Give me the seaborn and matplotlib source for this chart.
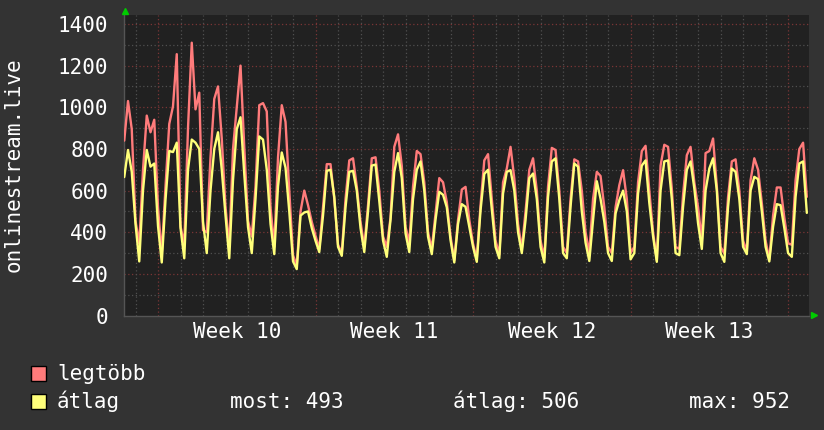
import numpy as np
import pandas as pd
import matplotlib
matplotlib.use("Agg")
import matplotlib.pyplot as plt
from matplotlib.patches import Rectangle
from matplotlib.lines import Line2D
import seaborn as sns

# ---------------- data (4-hour samples) ----------------
series_names = ["legtöbb", "átlag"]
start_time = "2024-03-02 12:00"
step = "4h"

max_vals = [
    840, 1030, 895,
    455, 345, 700, 960, 880, 940,
    520, 295, 620, 920, 1005, 1255,
    430, 340, 900, 1310, 990, 1070,
    410, 400, 760, 1040, 1100, 850,
    520, 330, 800, 1000, 1200, 810,
    455, 380, 620, 1010, 1020, 980,
    520, 330, 760, 1010, 930, 600,
    290, 240, 500, 600, 530, 450,
    383, 320, 520, 727, 727, 560,
    340, 300, 560, 745, 755, 620,
    450, 330, 530, 755, 760, 600,
    380, 330, 470, 810, 870, 720,
    426, 350, 620, 790, 775, 640,
    400, 320, 490, 660, 640, 545,
    380, 265, 460, 605, 618, 460,
    345, 274, 530, 745, 775, 560,
    360, 292, 640, 706, 810, 658,
    440, 320, 500, 700, 755, 600,
    360, 278, 620, 805, 795, 600,
    330, 300, 560, 750, 740, 600,
    400, 300, 560, 690, 670, 520,
    330, 300, 520, 626, 698, 560,
    300, 330, 640, 790, 815, 600,
    400, 266, 720, 820, 810, 610,
    330, 320, 580, 770, 810, 640,
    520, 360, 780, 790, 850, 620,
    330, 298, 570, 740, 750, 600,
    360, 310, 650, 755, 700, 540,
    360, 270, 480, 615, 615, 470,
    347, 340, 650, 800, 830, 570,
]

avg_vals = [
    665, 795, 690,
    440, 260, 600, 795, 715, 730,
    430, 255, 555, 790, 785, 830,
    420, 275, 700, 845, 830, 800,
    450, 300, 600, 800, 880, 700,
    480, 275, 650, 895, 952, 680,
    425, 300, 560, 860, 845, 700,
    440, 295, 620, 783, 710, 500,
    260, 223, 480, 495, 500, 420,
    359, 305, 480, 695, 700, 570,
    330, 287, 520, 690, 695, 600,
    420, 305, 500, 720, 725, 550,
    360, 282, 460, 690, 780, 660,
    395, 305, 560, 700, 740, 600,
    378, 295, 460, 594, 580, 520,
    362, 255, 440, 535, 522, 426,
    330, 258, 505, 680, 700, 510,
    330, 275, 586, 690, 698, 600,
    400, 300, 458, 660, 682, 560,
    330, 255, 570, 740, 755, 560,
    300, 275, 522, 730, 715, 500,
    350, 262, 458, 645, 560, 450,
    300, 262, 490, 554, 600, 500,
    270, 300, 586, 720, 745, 540,
    380, 258, 600, 740, 745, 560,
    300, 290, 522, 700, 740, 610,
    442, 320, 600, 706, 755, 600,
    300, 258, 522, 706, 690, 560,
    330, 295, 600, 666, 655, 500,
    330, 260, 426, 535, 530, 420,
    300, 282, 570, 730, 740, 493,
]

y_ticks = [0, 200, 400, 600, 800, 1000, 1200, 1400]
week_labels = ["Week 10", "Week 11", "Week 12", "Week 13"]
week_centers = ["2024-03-07 12:00", "2024-03-14 12:00", "2024-03-21 12:00", "2024-03-28 12:00"]
y_label = "onlinestream.live"
stat_texts = ["most: 493", "átlag: 506", "max: 952"]

# ---------------- style ----------------
BG = "#333333"
PLOT_BG = "#212121"
RED = "#ff7b7b"
YELLOW = "#ffff7a"
GRID_MINOR = "#505050"
GRID_MAJOR = "#7a3535"
TXT = "#ffffff"

sns.set_style("dark")
plt.rcParams["font.family"] = ["DejaVu Sans Mono", "DejaVu Sans"]
FS = 15

times = pd.date_range(start_time, periods=len(max_vals), freq=step)
df = pd.DataFrame({"time": times, series_names[0]: max_vals, series_names[1]: avg_vals})
long = df.melt(id_vars="time", var_name="series", value_name="value")

fig = plt.figure(figsize=(8.24, 4.30), dpi=100, facecolor=BG)
ax = fig.add_axes([124 / 824, 1 - 316 / 430, 685 / 824, 301 / 430])
ax.set_facecolor(PLOT_BG)

sns.lineplot(data=long, x="time", y="value", hue="series", hue_order=series_names,
             palette=[RED, YELLOW], estimator=None, legend=False, linewidth=1.7,
             ax=ax, zorder=3)

ax.set_xlim(pd.Timestamp("2024-03-02 11:44"), pd.Timestamp("2024-04-01 22:19"))
ax.set_ylim(-2, 1443)

# grid
for v in range(100, 1500, 100):
    ax.axhline(v, color=GRID_MAJOR if v % 200 == 0 else GRID_MINOR,
               lw=0.9, ls=(0, (1, 2)), zorder=1)
for d in pd.date_range("2024-03-03", "2024-04-01", freq="D"):
    ax.axvline(d, color=GRID_MAJOR if d.dayofweek == 0 else GRID_MINOR,
               lw=0.9, ls=(0, (1, 2)), zorder=1)

for s in ["top", "right"]:
    ax.spines[s].set_visible(False)
for s in ["left", "bottom"]:
    ax.spines[s].set_color("#555555")
    ax.spines[s].set_linewidth(1.0)

ax.set_yticks(y_ticks)
ax.set_yticklabels([str(v) for v in y_ticks])
ax.set_xticks([pd.Timestamp(w) for w in week_centers])
ax.set_xticklabels(week_labels)
ax.tick_params(axis="y", length=3, color="#555555", pad=8.5, labelsize=FS, labelcolor=TXT)
ax.tick_params(axis="x", length=0, pad=4, labelsize=FS, labelcolor=TXT)
ax.set_xlabel("")
ax.set_ylabel("")
ax.grid(False)

fig.text(14 / 824, 1 - 165 / 430, y_label, rotation=90, ha="center", va="center",
         fontsize=FS, color=TXT)

# arrows
fig.add_artist(Line2D([125 / 824], [1 - 11 / 430], marker="^", color="#00cc00",
                      markersize=4, linestyle="none"))
fig.add_artist(Line2D([814 / 824], [1 - 315 / 430], marker=">", color="#00cc00",
                      markersize=4, linestyle="none"))

# legend
W, H = 824, 430
for (yb, col) in [(366, RED), (394, YELLOW)]:
    fig.add_artist(Rectangle((31 / W, 1 - (yb + 15) / H), 15 / W, 15 / H,
                             transform=fig.transFigure, facecolor=col,
                             edgecolor="#000000", lw=1.0))
fig.text(57 / W, 1 - 380 / H, series_names[0], ha="left", va="baseline", fontsize=FS, color=TXT)
fig.text(57 / W, 1 - 408 / H, series_names[1], ha="left", va="baseline", fontsize=FS, color=TXT)
for x0, t in zip([230, 453, 689], stat_texts):
    fig.text(x0 / W, 1 - 408 / H, t, ha="left", va="baseline", fontsize=FS, color=TXT)

fig.savefig("out.png", dpi=100, facecolor=BG)
